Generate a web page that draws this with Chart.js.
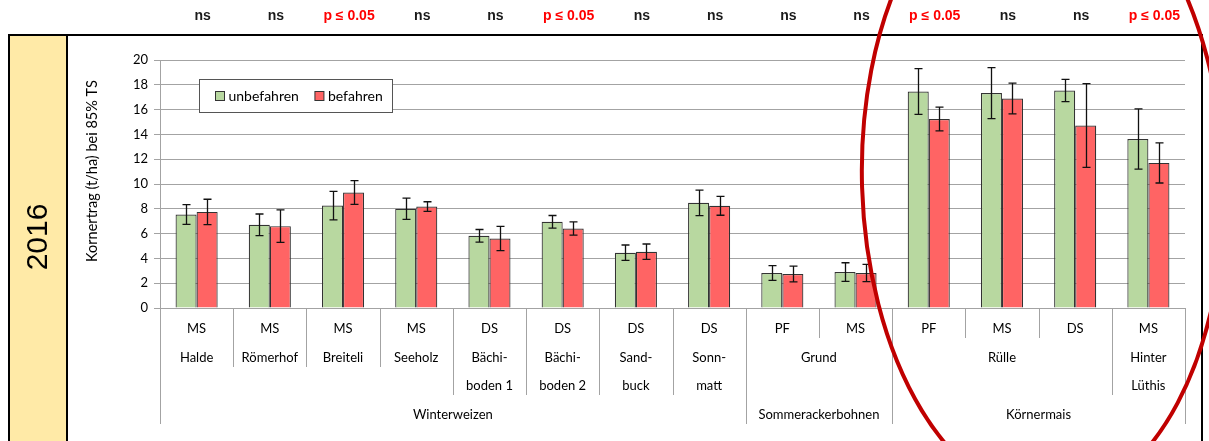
<!DOCTYPE html>
<html>
<head>
<meta charset="utf-8">
<script src="https://cdn.jsdelivr.net/npm/chart.js@4.4.1/dist/chart.umd.min.js"></script>
<style>
  html, body { margin: 0; padding: 0; background: #fff; }
  canvas { display: block; }
</style>
</head>
<body>
<canvas id="chart" width="1209" height="441"></canvas>
<script>
// Site type (innermost axis level)
const siteTypes = ['MS', 'MS', 'MS', 'MS', 'DS', 'DS', 'DS', 'DS', 'PF', 'MS', 'PF', 'MS', 'DS', 'MS'];
// Site names ('|' marks a line break); equal neighbours share one label
const siteNames = ['Halde', 'Römerhof', 'Breiteli', 'Seeholz', 'Bächi-|boden 1', 'Bächi-|boden 2',
  'Sand-|buck', 'Sonn-|matt', 'Grund', 'Grund', 'Rülle', 'Rülle', 'Rülle', 'Hinter|Lüthis'];
// Crop (outermost axis level)
const crops = ['Winterweizen', 'Winterweizen', 'Winterweizen', 'Winterweizen', 'Winterweizen',
  'Winterweizen', 'Winterweizen', 'Winterweizen', 'Sommerackerbohnen', 'Sommerackerbohnen',
  'Körnermais', 'Körnermais', 'Körnermais', 'Körnermais'];
// Test result per site
const significance = ['ns', 'ns', 'p ≤ 0.05', 'ns', 'ns', 'p ≤ 0.05', 'ns', 'ns', 'ns', 'ns',
  'p ≤ 0.05', 'ns', 'ns', 'p ≤ 0.05'];

// Grain yield (t/ha at 85% DM) and standard deviation
const unbefahren   = [7.54, 6.71, 8.26, 8.00, 5.82, 6.95, 4.46, 8.48, 2.82, 2.90, 17.46, 17.33, 17.54, 13.63];
const unbefahrenSD = [0.80, 0.87, 1.15, 0.86, 0.51, 0.51, 0.62, 1.03, 0.59, 0.75, 1.84, 2.05, 0.90, 2.43];
const befahren     = [7.75, 6.60, 9.31, 8.18, 5.61, 6.41, 4.54, 8.24, 2.74, 2.82, 15.24, 16.90, 14.72, 11.70];
const befahrenSD   = [1.02, 1.31, 0.96, 0.39, 0.98, 0.53, 0.62, 0.76, 0.63, 0.70, 0.96, 1.24, 3.38, 1.62];

const yMin = 0, yMax = 20, yStep = 2;
const yearLabel = '2016';
const yTitle = 'Kornertrag (t/ha) bei 85% TS';

const categories = siteTypes.map((t, i) => t + ' ' + siteNames[i].replace('|', ' '));

const FONT = 'Lato, "Open Sans", sans-serif';
const GRID = '#a3a3a3';

// groups consecutive equal entries: [{value, start, end}]
function runs(arr) {
  const out = [];
  arr.forEach((v, i) => {
    const last = out[out.length - 1];
    if (last && last.value === v) last.end = i; else out.push({ value: v, start: i, end: i });
  });
  return out;
}

const decorPlugin = {
  id: 'decor',
  beforeDraw(chart) {
    const ctx = chart.ctx;
    ctx.save();
    ctx.fillStyle = '#fff';
    ctx.fillRect(0, 0, chart.width, chart.height);
    // year panel
    ctx.fillStyle = '#ffeaa7';
    ctx.fillRect(9, 35, 58, chart.height);
    ctx.strokeStyle = '#000';
    ctx.lineWidth = 2;
    ctx.beginPath();
    ctx.moveTo(9, chart.height + 2); ctx.lineTo(9, 35); ctx.lineTo(1202, 35); ctx.lineTo(1202, chart.height + 2);
    ctx.moveTo(67, 35); ctx.lineTo(67, chart.height + 2);
    ctx.stroke();
    ctx.translate(39, 237);
    ctx.rotate(-Math.PI / 2);
    ctx.fillStyle = '#000';
    ctx.font = '30px "Liberation Sans", Arial, sans-serif';
    ctx.textAlign = 'center';
    ctx.textBaseline = 'middle';
    ctx.fillText(yearLabel, 0, 0);
    ctx.restore();
  },
  afterDatasetsDraw(chart) {
    // error bars (± SD)
    const ctx = chart.ctx;
    const y = chart.scales.y;
    ctx.save();
    ctx.strokeStyle = '#111';
    ctx.lineWidth = 1.3;
    chart.data.datasets.forEach((ds, di) => {
      const meta = chart.getDatasetMeta(di);
      meta.data.forEach((bar, i) => {
        const v = ds.data[i], sd = ds.sd[i];
        const top = y.getPixelForValue(v + sd), bot = y.getPixelForValue(v - sd);
        const x = Math.round(bar.x) + 0.5;
        ctx.beginPath();
        ctx.moveTo(x, top); ctx.lineTo(x, bot);
        ctx.moveTo(x - 4, top); ctx.lineTo(x + 4, top);
        ctx.moveTo(x - 4, bot); ctx.lineTo(x + 4, bot);
        ctx.stroke();
      });
    });
    ctx.restore();
  },
  afterDraw(chart) {
    const ctx = chart.ctx;
    const xs = chart.scales.x;
    const area = chart.chartArea;
    const n = categories.length;
    const w = (xs.right - xs.left) / n;
    const edge = i => xs.left + i * w;
    const base = area.bottom;
    const rowY = [329, 358, 386, 415];
    const rowEnd = [338, 367, 395, 424];

    ctx.save();
    // y-axis title
    ctx.save();
    ctx.translate(92, 171);
    ctx.rotate(-Math.PI / 2);
    ctx.fillStyle = '#000';
    ctx.font = '14.5px ' + FONT;
    ctx.textAlign = 'center';
    ctx.textBaseline = 'middle';
    ctx.fillText(yTitle, 0, 0);
    ctx.restore();

    // category separators
    ctx.strokeStyle = GRID;
    ctx.lineWidth = 1;
    ctx.beginPath();
    for (let i = 0; i <= n; i++) {
      let end;
      if (i === 0 || i === n || crops[i] !== crops[i - 1]) end = rowEnd[3];
      else if (siteNames[i] !== siteNames[i - 1]) {
        const two = siteNames[i].includes('|') || siteNames[i - 1].includes('|');
        end = two ? rowEnd[2] : rowEnd[1];
      } else end = rowEnd[0];
      const x = Math.round(edge(i)) + 0.5;
      ctx.moveTo(x, base); ctx.lineTo(x, end);
    }
    ctx.stroke();

    // axis labels
    ctx.fillStyle = '#000';
    ctx.font = '13px ' + FONT;
    ctx.textAlign = 'center';
    ctx.textBaseline = 'middle';
    siteTypes.forEach((t, i) => ctx.fillText(t, xs.getPixelForValue(i), rowY[0]));
    runs(siteNames).forEach(r => {
      const cx = (edge(r.start) + edge(r.end + 1)) / 2;
      r.value.split('|').forEach((line, k) => ctx.fillText(line, cx, rowY[1 + k]));
    });
    runs(crops).forEach(r => {
      const cx = (edge(r.start) + edge(r.end + 1)) / 2;
      ctx.fillText(r.value, cx, rowY[3]);
    });

    // significance row
    ctx.font = 'bold 14px "Liberation Sans", Arial, sans-serif';
    ctx.textBaseline = 'alphabetic';
    significance.forEach((s, i) => {
      ctx.fillStyle = s === 'ns' ? '#1a1a1a' : '#ff0000';
      ctx.fillText(s, xs.getPixelForValue(i) + 6, 20);
    });

    // legend
    const lx = 199.5, ly = 79.5, lw = 193, lh = 33;
    ctx.fillStyle = '#fff';
    ctx.fillRect(lx, ly, lw, lh);
    ctx.strokeStyle = '#555';
    ctx.lineWidth = 1;
    ctx.strokeRect(lx, ly, lw, lh);
    ctx.font = '14px ' + FONT;
    ctx.textAlign = 'left';
    ctx.textBaseline = 'middle';
    let px = lx + 16;
    chart.data.datasets.forEach(ds => {
      ctx.fillStyle = ds.backgroundColor;
      ctx.fillRect(px, ly + 12, 9, 9);
      ctx.strokeStyle = '#333';
      ctx.strokeRect(px, ly + 12, 9, 9);
      ctx.fillStyle = '#000';
      ctx.fillText(ds.label, px + 13, ly + 17);
      px += 13 + ctx.measureText(ds.label).width + 16;
    });

    // highlight ring around the grain maize sites
    ctx.beginPath();
    ctx.ellipse(1043, 182, 181, 318, -0.03, 0, Math.PI * 2);
    ctx.strokeStyle = '#c00000';
    ctx.lineWidth = 4;
    ctx.stroke();
    ctx.restore();
  }
};

new Chart(document.getElementById('chart'), {
  type: 'bar',
  data: {
    labels: categories,
    datasets: [
      { label: 'unbefahren', data: unbefahren, sd: unbefahrenSD, backgroundColor: 'rgb(184,216,160)',
        borderColor: '#333', borderWidth: 1.2, barPercentage: 1, categoryPercentage: 0.575 },
      { label: 'befahren', data: befahren, sd: befahrenSD, backgroundColor: 'rgb(255,100,100)',
        borderColor: '#333', borderWidth: 1.2, barPercentage: 1, categoryPercentage: 0.575 }
    ]
  },
  options: {
    responsive: false,
    animation: false,
    layout: { padding: { left: 0, top: 60, right: 24, bottom: 133 } },
    plugins: { legend: { display: false }, tooltip: { enabled: false } },
    scales: {
      x: { display: false },
      y: {
        min: yMin, max: yMax,
        ticks: { stepSize: yStep, color: '#000', font: { family: FONT, size: 13 }, padding: 6 },
        grid: { color: GRID, lineWidth: 1, tickLength: 6, drawTicks: true },
        border: { color: GRID },
        afterFit(scale) { scale.width = 160; }
      }
    }
  },
  plugins: [decorPlugin]
});
</script>
</body>
</html>
